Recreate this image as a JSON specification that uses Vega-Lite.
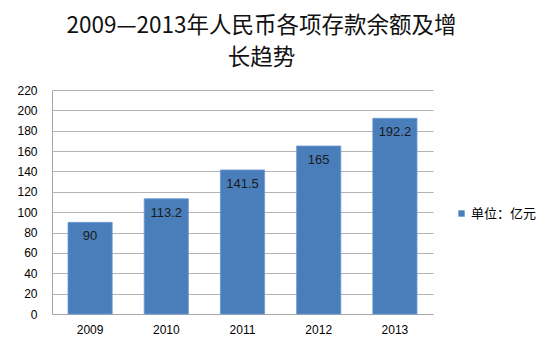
{
  "$schema": "https://vega.github.io/schema/vega-lite/v6.json",
  "width": 381,
  "height": 224,
  "autosize": {"type": "none"},
  "padding": {"left": 52, "top": 90, "right": 114, "bottom": 44},
  "background": "white",
  "title": {
    "text": ["2009—2013年人民币各项存款余额及增", "长趋势"],
    "font": "Noto Sans CJK SC",
    "fontSize": 22.5,
    "fontWeight": "normal",
    "lineHeight": 32,
    "color": "#111111",
    "anchor": "middle",
    "dx": 19,
    "offset": 15
  },
  "data": {
    "values": [
      {"year": "2009", "value": 90, "label": "90", "series": "单位：亿元"},
      {"year": "2010", "value": 113.2, "label": "113.2", "series": "单位：亿元"},
      {"year": "2011", "value": 141.5, "label": "141.5", "series": "单位：亿元"},
      {"year": "2012", "value": 165, "label": "165", "series": "单位：亿元"},
      {"year": "2013", "value": 192.2, "label": "192.2", "series": "单位：亿元"}
    ]
  },
  "encoding": {
    "x": {
      "field": "year",
      "type": "nominal",
      "scale": {"paddingInner": 0.42, "paddingOuter": 0.21},
      "axis": {
        "title": null,
        "labelAngle": 0,
        "ticks": false,
        "labelPadding": 10,
        "labelFont": "Liberation Sans",
        "labelFontSize": 12,
        "labelColor": "#000000",
        "domainColor": "#a6a6a6",
        "grid": false
      }
    },
    "y": {
      "field": "value",
      "type": "quantitative",
      "scale": {"domain": [0, 220], "nice": false},
      "axis": {
        "title": null,
        "values": [0, 20, 40, 60, 80, 100, 120, 140, 160, 180, 200, 220],
        "ticks": false,
        "labelPadding": 15,
        "labelFont": "Liberation Sans",
        "labelFontSize": 12,
        "labelColor": "#000000",
        "domainColor": "#a6a6a6",
        "gridColor": "#b3b3b3",
        "gridWidth": 1
      }
    }
  },
  "layer": [
    {
      "mark": {"type": "bar", "stroke": "#6b9bd6", "strokeWidth": 0.8},
      "encoding": {
        "color": {
          "field": "series",
          "type": "nominal",
          "scale": {"range": ["#4a7ebb"]},
          "legend": {
            "title": null,
            "orient": "none",
            "legendX": 403,
            "legendY": 117,
            "symbolType": "square",
            "symbolSize": 40,
            "symbolStrokeWidth": 0,
            "labelFont": "Noto Sans CJK SC",
            "labelFontSize": 13,
            "labelColor": "#000000",
            "labelOffset": 3
          }
        }
      }
    },
    {
      "mark": {"type": "text", "baseline": "middle", "dy": 14, "font": "Liberation Sans", "fontSize": 13, "color": "#1a1a1a"},
      "encoding": {"text": {"field": "label"}}
    }
  ],
  "config": {"view": {"stroke": null}}
}
